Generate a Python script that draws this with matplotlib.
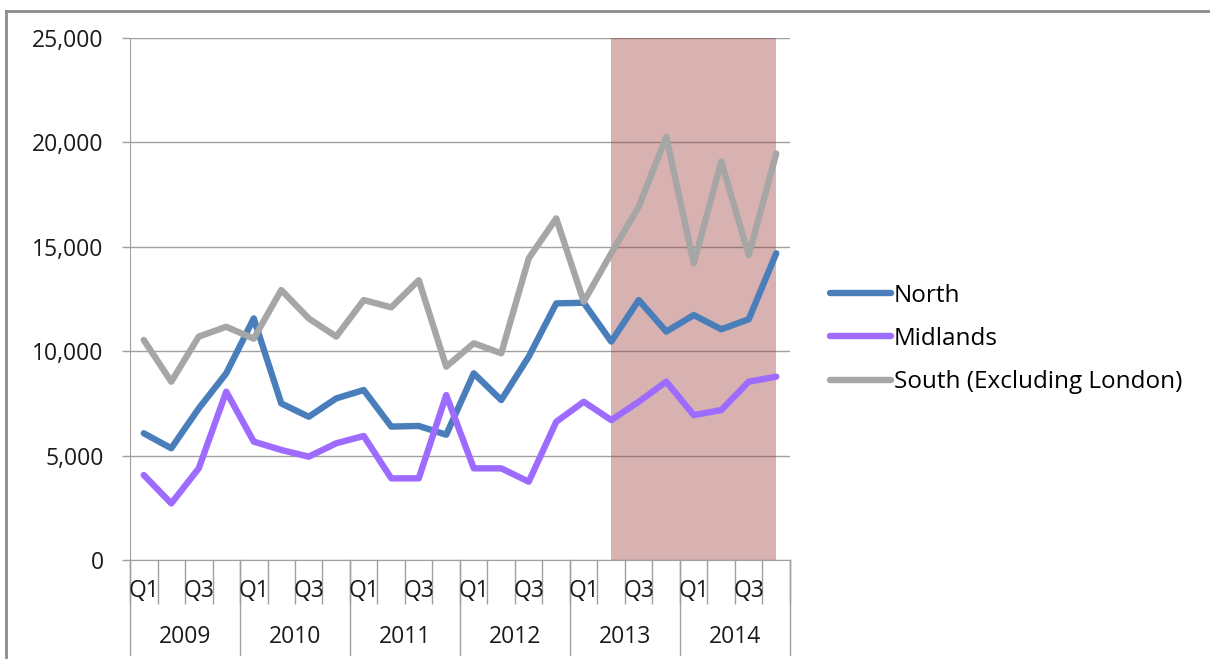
import matplotlib
matplotlib.use("Agg")
import matplotlib.pyplot as plt
import matplotlib.transforms as mtransforms
from matplotlib.lines import Line2D
import numpy as np

# data (quarterly, 2009 Q1 .. 2014 Q4)
years = ["2009", "2010", "2011", "2012", "2013", "2014"]
quarters = ["Q1", "Q2", "Q3", "Q4"]
north = [6070, 5350, 7260, 8940, 11570, 7500, 6860, 7740, 8140, 6390, 6420, 6000,
         8940, 7660, 9740, 12290, 12320, 10460, 12450, 10940, 11730, 11050, 11530, 14690]
midlands = [4070, 2710, 4390, 8060, 5670, 5270, 4950, 5590, 5940, 3910, 3910, 7900,
            4390, 4390, 3750, 6620, 7580, 6700, 7580, 8540, 6940, 7180, 8540, 8780]
south = [10540, 8540, 10700, 11170, 10600, 12930, 11570, 10700, 12450, 12100, 13400, 9260,
         10380, 9900, 14450, 16360, 12370, 14690, 16920, 20270, 14200, 19080, 14600, 19470]
series_names = ["North", "Midlands", "South (Excluding London)"]
series_colors = ["#4A7EBB", "#9E6BFF", "#A6A6A6"]
shade_from, shade_to = "2013 Q2", "2014 Q4"

plt.rcParams['font.family'] = ['Open Sans', 'DejaVu Sans']
fs = 16.5

labels = [y + " " + q for y in years for q in quarters]
x = np.arange(len(labels))

fig = plt.figure(figsize=(12.1, 6.59), dpi=100)
ax = fig.add_axes([130 / 1210, 1 - 560 / 659, 660 / 1210, 522 / 659])

grid_c = "#A0A0A0"
ax.axvspan(labels.index(shade_from), labels.index(shade_to), color="#963634",
           alpha=0.38, lw=0, zorder=2)

for vals, name, col in zip([north, midlands, south], series_names, series_colors):
    ax.plot(x, vals, color=col, lw=4.6, label=name, zorder=3,
            solid_capstyle="round", solid_joinstyle="round")

ax.set_xlim(-0.5, len(labels) - 0.5)
ax.set_ylim(0, 25000)
ax.set_yticks(np.arange(0, 25001, 5000))
ax.yaxis.set_major_formatter(matplotlib.ticker.FuncFormatter(lambda v, p: f"{int(v):,}"))
ax.grid(axis="y", color=grid_c, lw=1.0, zorder=1)
ax.set_axisbelow(True)
ax.tick_params(axis="y", direction="out", length=6, width=1, color=grid_c,
               pad=13, labelcolor="#1a1a1a", labelsize=fs)

# category axis: short ticks between quarters, long separators between years
ax.set_xticks(np.arange(-0.5, len(labels), 1))
ax.set_xticklabels([])
ax.tick_params(axis="x", direction="out", length=32, width=1, color=grid_c)
trans = mtransforms.blended_transform_factory(ax.transData, ax.transAxes)
for k in range(len(years) + 1):
    ax.plot([k * 4 - 0.5] * 2, [0, -0.182], transform=trans, color=grid_c,
            lw=1, clip_on=False)
for i, lab in enumerate(labels):
    q = lab.split(" ")[1]
    if q in ("Q1", "Q3"):
        ax.text(i, -0.059, q, transform=trans, ha="center", va="center",
                fontsize=fs, color="#1a1a1a")
for k, yr in enumerate(years):
    ax.text(k * 4 + 1.5, -0.147, yr, transform=trans, ha="center", va="center",
            fontsize=fs, color="#1a1a1a")

for s in ["top", "right"]:
    ax.spines[s].set_visible(False)
ax.spines["left"].set_color(grid_c)
ax.spines["bottom"].set_color(grid_c)

handles = [Line2D([], [], color=c, lw=4.6, solid_capstyle="round") for c in series_colors]
fig.legend(handles, series_names, loc="center left", bbox_to_anchor=(830 / 1210, 1 - 339 / 659),
           frameon=False, borderpad=0, borderaxespad=0, handlelength=2.5,
           handletextpad=0.12, labelspacing=0.8, fontsize=17.5)

# outer chart frame (partly off the canvas)
fig.add_artist(Line2D([6 / 1210, 6 / 1210], [0, 1 - 11 / 659], color="#8c8c8c", lw=2))
fig.add_artist(Line2D([6 / 1210, 1], [1 - 11 / 659, 1 - 11 / 659], color="#8c8c8c", lw=2))

fig.savefig("out.png", dpi=100)
